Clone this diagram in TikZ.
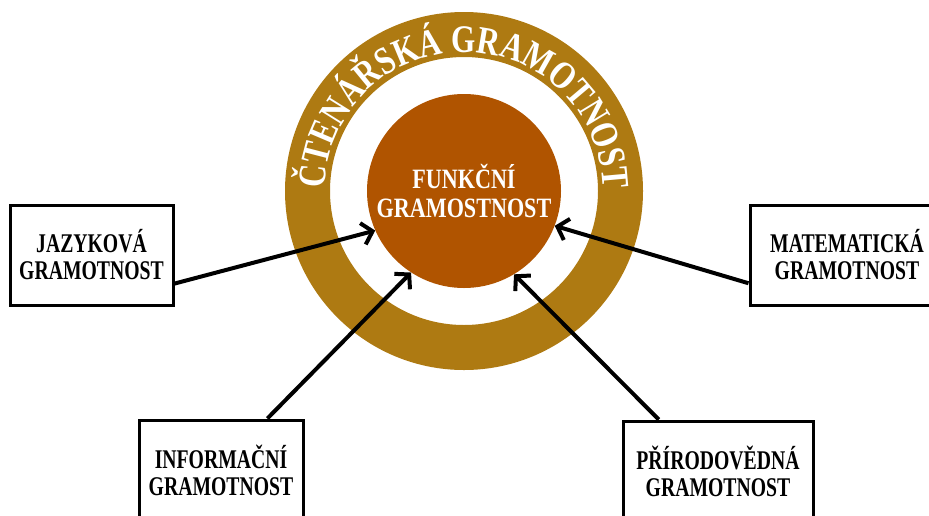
\documentclass[tikz,border=0pt]{standalone}
\usepackage{fontspec}
\setmainfont{Liberation Serif}
\newfontfamily\boxfont{Liberation Serif}[FakeStretch=0.73]
\newfontfamily\midfont{Liberation Serif}[FakeStretch=0.79]
\newfontfamily\ringfont{Liberation Serif}[FakeStretch=0.8]
\usetikzlibrary{arrows.meta,decorations.text}
\definecolor{Gold}{HTML}{AE7A12}
\definecolor{Rust}{HTML}{B05400}
\newcommand\ringtext{\ringfont\bfseries\fontsize{39pt}{39pt}\selectfont}
\tikzset{
  lbox/.style={draw=black,line width=3pt,fill=white,align=center,minimum width=#1,minimum height=100pt,inner sep=0pt,font=\boxfont\bfseries\fontsize{27pt}{27pt}\selectfont},
  lbox/.default=163pt,
  ring/.style={circle,draw=Gold,line width=45pt,minimum size=313pt,inner sep=0pt},
  core/.style={circle,fill=Rust,minimum size=194pt,inner sep=0pt,align=center,text=white,font=\midfont\bfseries\fontsize{28pt}{29pt}\selectfont},
  arr/.style={-{Straight Barb[length=10pt,width=22pt]},line width=4pt,draw=black},
}
\begin{document}
\begin{tikzpicture}[x=1pt,y=1pt]
\useasboundingbox (0,0) rectangle (929,-515);
\node[ring] (ring) at (464,-191) {};
\path[decorate,decoration={text along path,text align=center,text color=white,
  text={|\ringtext|ČTENÁŘSKÁ GRAMOTNOST}}]
  ([shift={(185:139)}]ring.center) arc[start angle=185,end angle=-5,radius=139];
\node[core] (func) at (ring.center) {FUNKČNÍ\\GRAMOSTNOST};
\node[lbox] (jaz) at (91.5,-255) {JAZYKOVÁ\\GRAMOTNOST};
\node[lbox=194pt] (mat) at (847,-255) {MATEMATICKÁ\\GRAMOTNOST};
\node[lbox=164pt] (inf) at (221,-470) {INFORMAČNÍ\\GRAMOTNOST};
\node[lbox=190pt] (pri) at (718,-471) {PŘÍRODOVĚDNÁ\\GRAMOTNOST};
\draw[arr] (jaz.-19) -- (func.204);
\draw[arr] (mat.196) -- (func.-21);
\draw[arr] (inf.48) -- (func.237);
\draw[arr] (pri.139) -- (func.-59);
\end{tikzpicture}
\end{document}
